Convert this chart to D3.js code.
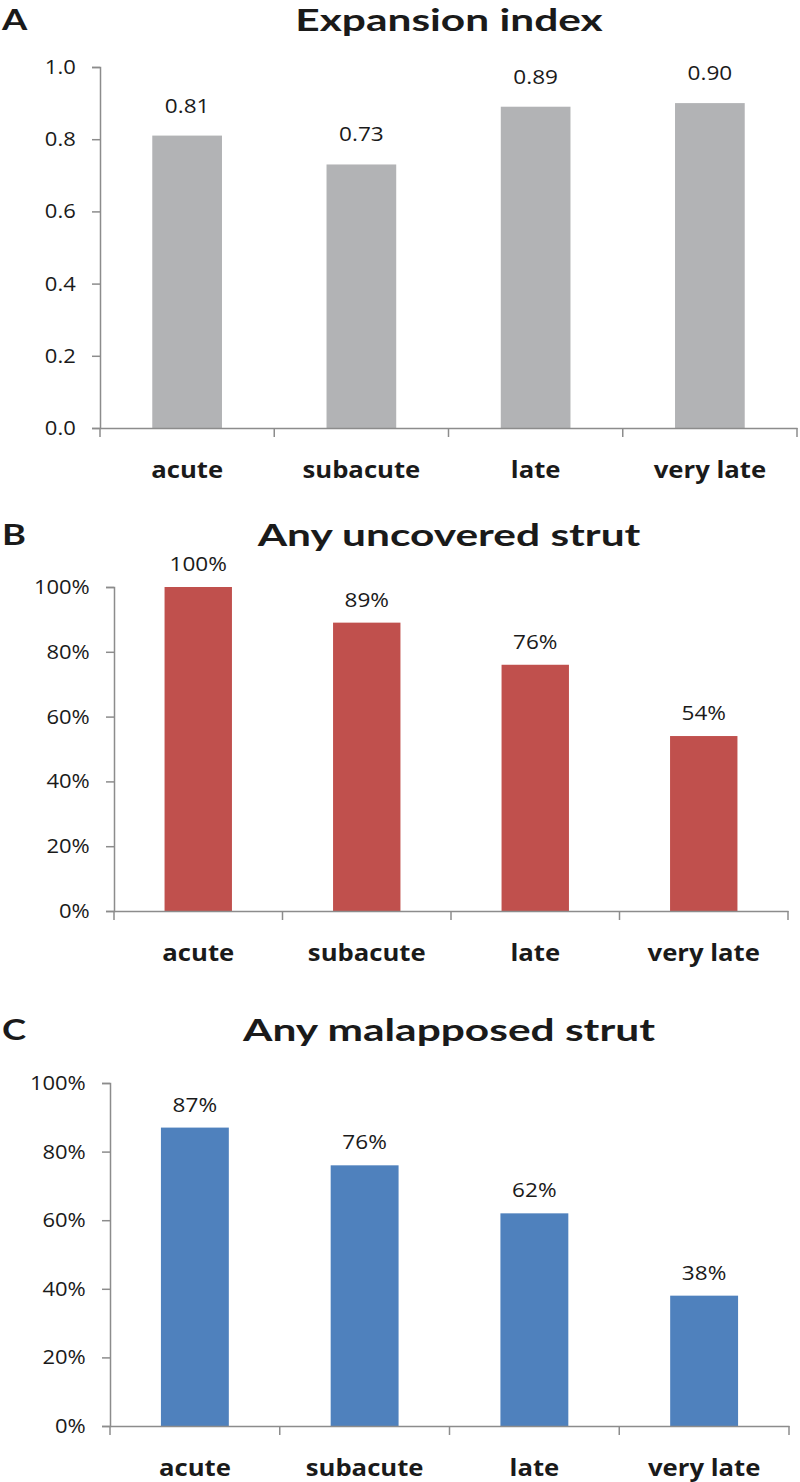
<!DOCTYPE html>
<html>
<head>
<meta charset="utf-8">
<script src="https://cdn.jsdelivr.net/npm/d3@7"></script>
<style>
  html, body { margin: 0; padding: 0; background: #fff; }
  svg { display: block; }
  text { font-family: "Open Sans", Lato, sans-serif; fill: #1a1a1a; }
  .heading { font-family: Lato, "Open Sans", sans-serif; }
</style>
</head>
<body>
<svg id="chart" width="800" height="1482"></svg>
<script>
// ---- data ----
const categories = ["acute", "subacute", "late", "very late"];

const expansionIndex = [0.81, 0.73, 0.89, 0.90];
const expansionLabels = ["0.81", "0.73", "0.89", "0.90"];
const expansionTicks = [0.0, 0.2, 0.4, 0.6, 0.8, 1.0];
const expansionTickLabels = ["0.0", "0.2", "0.4", "0.6", "0.8", "1.0"];

const uncoveredStrut = [100, 89, 76, 54];
const uncoveredLabels = ["100%", "89%", "76%", "54%"];

const malapposedStrut = [87, 76, 62, 38];
const malapposedLabels = ["87%", "76%", "62%", "38%"];

const percentTicks = [0, 20, 40, 60, 80, 100];
const percentTickLabels = ["0%", "20%", "40%", "60%", "80%", "100%"];

const panelLetters = ["A", "B", "C"];
const panelTitles = ["Expansion index", "Any uncovered strut", "Any malapposed strut"];

// ---- layout ----
const panels = [
  { letter: panelLetters[0], title: panelTitles[0], values: expansionIndex, labels: expansionLabels,
    ticks: expansionTicks, tickLabels: expansionTickLabels, max: 1.0, color: "#b2b3b5",
    x0: 100, x1: 797, yTop: 67, yBot: 428, titleY: 31, labelGap: 23, xLabelY: 478 },
  { letter: panelLetters[1], title: panelTitles[1], values: uncoveredStrut, labels: uncoveredLabels,
    ticks: percentTicks, tickLabels: percentTickLabels, max: 100, color: "#c0504d",
    x0: 114, x1: 788, yTop: 587, yBot: 911, titleY: 546, labelGap: 16, xLabelY: 961 },
  { letter: panelLetters[2], title: panelTitles[2], values: malapposedStrut, labels: malapposedLabels,
    ticks: percentTicks, tickLabels: percentTickLabels, max: 100, color: "#4f81bd",
    x0: 110, x1: 789, yTop: 1083, yBot: 1426, titleY: 1041, labelGap: 16, xLabelY: 1476 }
];

const svg = d3.select("#chart");
const axisColor = "#8c8c8c";

// text drawn with a horizontal stretch (the reference glyphs are wide)
function stretchedText(sel, x, y, sx, str, size, weight, anchor, cls) {
  return sel.append("g")
    .attr("transform", `translate(${x},${y}) scale(${sx},1)`)
    .append("text")
    .attr("class", cls || null)
    .attr("text-anchor", anchor)
    .attr("font-size", size)
    .attr("font-weight", weight)
    .text(str);
}

panels.forEach(p => {
  const g = svg.append("g");
  const x = d3.scaleBand().domain(categories).range([p.x0, p.x1]).paddingInner(0.6).paddingOuter(0.3);
  const xb = d3.scaleBand().domain(categories).range([p.x0, p.x1]);
  const y = d3.scaleLinear().domain([0, p.max]).range([p.yBot, p.yTop]);

  // panel letter and title
  stretchedText(g, 2, p.titleY - 1, 1.3, p.letter, 28, "bold", "start", "heading");
  stretchedText(g, 449, p.titleY, 1.37, p.title, 31, "bold", "middle", "heading");

  // bars
  g.selectAll("rect.bar").data(p.values).join("rect")
    .attr("class", "bar")
    .attr("x", (d, i) => x(categories[i]))
    .attr("width", x.bandwidth())
    .attr("y", d => y(d))
    .attr("height", d => y(0) - y(d))
    .attr("fill", p.color);

  // value labels
  p.values.forEach((d, i) => {
    stretchedText(g, x(categories[i]) + x.bandwidth() / 2, y(d) - p.labelGap, 1.13,
      p.labels[i], 20, "normal", "middle");
  });

  // y axis
  const yAxis = d3.axisLeft(y).tickValues(p.ticks).tickSize(8).tickPadding(14)
    .tickFormat((d, i) => p.tickLabels[i]);
  const ya = g.append("g").attr("transform", `translate(${p.x0},0)`).call(yAxis);
  ya.select(".domain").attr("stroke", axisColor).attr("stroke-width", 1.5);
  ya.selectAll(".tick line").attr("stroke", axisColor).attr("stroke-width", 1.5);
  ya.selectAll(".tick text")
    .attr("x", -22)
    .attr("transform", "scale(1.1,1)")
    .attr("font-size", 20).attr("fill", "#1a1a1a")
    .style("font-family", "'Open Sans', sans-serif");

  // x axis: line with category boundary ticks
  const xAxis = d3.axisBottom(xb).tickSize(0).tickFormat(() => "");
  const xa = g.append("g").attr("transform", `translate(0,${p.yBot})`).call(xAxis);
  xa.select(".domain").attr("stroke", axisColor).attr("stroke-width", 1.5);
  const bounds = categories.map(c => xb(c)).concat([p.x1]);
  xa.selectAll("line.bound").data(bounds).join("line")
    .attr("class", "bound")
    .attr("x1", d => d).attr("x2", d => d)
    .attr("y1", 0).attr("y2", 9)
    .attr("stroke", axisColor).attr("stroke-width", 1.5);

  // category labels
  categories.forEach(c => {
    stretchedText(g, xb(c) + xb.bandwidth() / 2, p.xLabelY, 1.07, c, 24, "bold", "middle");
  });
});
</script>
</body>
</html>
